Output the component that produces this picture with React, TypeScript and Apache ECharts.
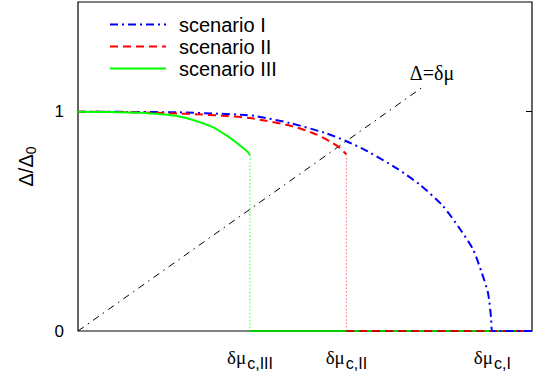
import React, { useEffect, useRef } from "react";
import * as echarts from "echarts";

// x in units of Δ0 (same scale as y, so Δ=δμ is the diagonal)
const X_MAX = 1.465;
const Y_MAX = 1.5;

const scenarioI: [number, number][] = [
  [0, 1], [0.15, 0.999], [0.323, 0.997], [0.45, 0.991], [0.539, 0.985], [0.577, 0.979],
  [0.684, 0.948], [0.797, 0.903], [0.868, 0.864], [0.935, 0.819], [1.03, 0.74],
  [1.103, 0.667], [1.177, 0.571], [1.232, 0.466], [1.274, 0.374], [1.303, 0.265],
  [1.323, 0.174], [1.333, 0.06], [1.337, 0], [1.465, 0],
];
const scenarioII: [number, number][] = [
  [0, 1], [0.15, 0.998], [0.355, 0.99], [0.48, 0.98], [0.555, 0.971], [0.694, 0.933],
  [0.771, 0.895], [0.813, 0.864], [0.845, 0.835], [0.866, 0.805],
];
const scenarioIII: [number, number][] = [
  [0, 1], [0.108, 0.998], [0.216, 0.994], [0.323, 0.979], [0.429, 0.933], [0.484, 0.887],
  [0.526, 0.842], [0.545, 0.82], [0.555, 0.802],
];
const zeroII: [number, number][] = [[0.866, 0], [1.465, 0]];
const zeroIII: [number, number][] = [[0.555, 0], [1.465, 0]];
const dropII: [number, number][] = [[0.866, 0.805], [0.866, 0]];
const dropIII: [number, number][] = [[0.555, 0.802], [0.555, 0]];
const diagonal: [number, number][] = [[0, 0], [1.11, 1.11]];

const xTickValues = [0.555, 0.866, 1.337];
const xTickLabels = ["III", "II", "I"];
const yTickValues = [0, 1];
const legendNames = ["scenario I", "scenario II", "scenario III"];

const SANS = "'Liberation Sans', Arial, sans-serif";
const SERIF = "'Liberation Serif', 'Times New Roman', serif";

export default function App() {
  const ref = useRef<HTMLDivElement>(null);
  useEffect(() => {
    if (!ref.current) return;
    const chart = echarts.init(ref.current, null, { renderer: "svg" });
    const line = (name: string, data: any, color: string, type: any, width: number, z = 2) => ({
      name,
      type: "line",
      data,
      symbol: "none",
      smooth: 0.25,
      z,
      lineStyle: { color, type, width },
      itemStyle: { color },
      emphasis: { disabled: true },
      silent: true,
    });
    chart.setOption({
      animation: false,
      backgroundColor: "#fff",
      grid: { left: 78, right: 7, top: 2, bottom: 41, show: true, borderColor: "#000", borderWidth: 1.2, backgroundColor: "transparent" },
      legend: {
        data: legendNames,
        orient: "vertical",
        left: 104,
        top: 9,
        itemWidth: 56,
        itemHeight: 14,
        itemGap: 1,
        itemStyle: { opacity: 0 },
        textStyle: { fontFamily: SANS, fontSize: 20, color: "#000", padding: [0, 0, 0, 8], lineHeight: 21 },
        selectedMode: false,
      },
      xAxis: {
        type: "value",
        min: 0,
        max: X_MAX,
        splitLine: { show: false },
        axisLine: { show: false },
        axisTick: { show: false },
        axisLabel: {
          customValues: xTickValues,
          margin: 12,
          formatter: (v: number) => {
            const i = xTickValues.indexOf(v);
            return i < 0 ? "" : `{d|δμ}{s|c,${xTickLabels[i]}}`;
          },
          rich: {
            d: { fontFamily: SERIF, fontSize: 19, color: "#000" },
            s: { fontFamily: SANS, fontSize: 16, color: "#000", padding: [12, 0, 0, 1] },
          },
        },
      },
      yAxis: [
        {
          type: "value",
          min: 0,
          max: Y_MAX,
          splitLine: { show: false },
          axisLine: { show: false },
          axisTick: { show: false },
          axisLabel: { customValues: yTickValues, fontFamily: SANS, fontSize: 17, color: "#000", margin: 14 },
          name: "{a|Δ/Δ}{b|0}",
          nameLocation: "middle",
          nameRotate: 90,
          nameGap: 40,
          nameTextStyle: {
            rich: {
              a: { fontFamily: SANS, fontSize: 20, color: "#000" },
              b: { fontFamily: SANS, fontSize: 14, color: "#000", padding: [10, 0, 0, 0] },
            },
          },
        },
        {
          type: "value",
          position: "right",
          min: 0,
          max: Y_MAX,
          splitLine: { show: false },
          axisLine: { show: false },
          axisLabel: { show: false },
          axisTick: { show: true, inside: true, length: 6, customValues: [1], lineStyle: { color: "#000" } },
        },
      ],
      series: [
        {
          ...line("Δ=δμ", diagonal, "#000", [7, 5, 1.5, 5], 1, 1),
          smooth: false,
          endLabel: {
            show: true,
            formatter: "Δ=δμ",
            fontFamily: SERIF,
            fontSize: 20,
            color: "#000",
            align: "center",
            verticalAlign: "middle",
            distance: 0,
            offset: [10, -15],
          },
        },
        line("", dropIII, "#33ff33", [1.5, 2], 1, 1),
        line("", dropII, "#ff7070", [1.5, 2], 1, 1),
        line("", zeroIII, "#00cc00", "solid", 2, 2),
        line("", zeroII, "#cc0000", [8, 5], 2, 3),
        line(legendNames[0], scenarioI, "#0000ff", [8, 4, 2, 4], 2, 4),
        line(legendNames[1], scenarioII, "#ff0000", [8, 5], 2, 4),
        line(legendNames[2], scenarioIII, "#00ff00", "solid", 2, 4),
      ],
    });
    return () => chart.dispose();
  }, []);
  return <div ref={ref} style={{ position: "fixed", left: 0, top: 0, width: 539, height: 372 }} />;
}
